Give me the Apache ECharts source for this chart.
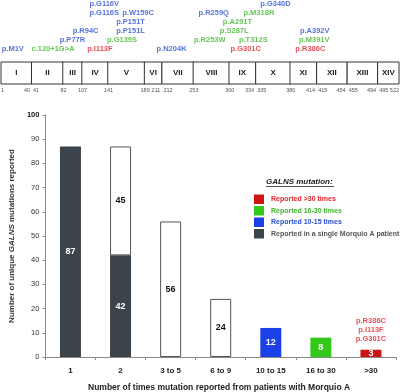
<!DOCTYPE html>
<html>
<head>
<meta charset="utf-8">
<script src="https://cdn.jsdelivr.net/npm/echarts@6/dist/echarts.min.js"></script>
<style>html,body{margin:0;padding:0;background:#fff}#c{width:400px;height:392px}</style>
</head>
<body>
<div id="c"></div>
<script>
// ---- Data ----
const categories = ['1', '2', '3 to 5', '6 to 9', '10 to 15', '16 to 30', '>30'];
const singlePatient = [87, 42, null, null, null, null, null];
const multiReported = [null, 45, 56, 24, null, null, null];
const reported10to15 = [null, null, null, null, 12, null, null];
const reported16to30 = [null, null, null, null, null, 8, null];
const reportedOver30 = [null, null, null, null, null, null, 3];
const over30Mutations = ['p.R386C', 'p.I113F', 'p.G301C'];
const yTicks = [0, 10, 20, 30, 40, 50, 60, 70, 80, 90, 100];

const exonNames = ['I','II','III','IV','V','VI','VII','VIII','IX','X','XI','XII','XIII','XIV'];
const exonStarts = [1, 41, 82, 107, 141, 189, 212, 253, 300, 335, 380, 415, 455, 495];
const exonEnds = [40, 82, 107, 141, 189, 211, 253, 300, 334, 380, 414, 454, 494, 522];

const mutationNames = ['p.M1V','c.120+1G>A','p.I113F','p.N204K','p.G301C','p.R386C',
  'p.P77R','p.G139S','p.R253W','p.T312S','p.M391V',
  'p.R94C','p.P151L','p.S287L','p.A392V',
  'p.P151T','p.A291T',
  'p.G116S','p.W159C','p.R259Q','p.M318R',
  'p.G116V','p.G340D'];
const mutationResidues = [1, 40, 113, 204, 301, 386,
  77, 139, 253, 312, 391,
  94, 151, 287, 392,
  151, 291,
  116, 159, 259, 318,
  116, 340];
const mutationTiers = [0,0,0,0,0,0, 1,1,1,1,1, 2,2,2,2, 3,3, 4,4,4,4, 5,5];
const mutationGroups = ['10-15','16-30','>30','10-15','>30','>30',
  '10-15','16-30','16-30','16-30','16-30',
  '10-15','10-15','16-30','10-15',
  '10-15','16-30',
  '10-15','10-15','10-15','16-30',
  '10-15','10-15'];

// ---- Styles ----
const FONT = 'Liberation Sans, Arial, Helvetica, sans-serif';
const textColors = { '>30': '#e3232d', '16-30': '#3fb52a', '10-15': '#2a4fd2' };
const barColors = { dark: '#3c444b', blue: '#1b40e8', green: '#34c81a', red: '#cc1414' };
const legendNames = ['Reported >30 times', 'Reported 16-30 times', 'Reported 10-15 times', 'Reported in a single Morquio A patient'];

const chart = echarts.init(document.getElementById('c'), null, { renderer: 'canvas' });

const mutationData = mutationNames.map((n, i) => ({
  value: [mutationResidues[i], mutationTiers[i]],
  name: n,
  label: { color: textColors[mutationGroups[i]] }
}));

const exonData = exonNames.map((n, i) => [exonStarts[i], exonEnds[i]]);

function barLabel(color) {
  return { show: true, position: 'inside', color: color, fontFamily: FONT, fontWeight: 'bold', fontSize: 9,
    formatter: p => (p.value == null ? '' : String(p.value)) };
}

const option = {
  animation: false,
  backgroundColor: '#fff',
  grid: [
    { left: 1, right: 1, top: 4, height: 44.5 },
    { left: 1, right: 1, top: 62, height: 22 },
    { left: 33, right: 4, top: 115, bottom: 35 }
  ],
  xAxis: [
    { gridIndex: 0, type: 'value', min: 0, max: 522, show: false },
    { gridIndex: 1, type: 'value', min: 0, max: 522, show: false },
    { gridIndex: 2, type: 'category', data: categories,
      axisLine: { lineStyle: { color: '#8a8a8a', width: 1 } },
      axisTick: { show: true, length: 3, lineStyle: { color: '#8a8a8a' } },
      axisLabel: { color: '#222', fontFamily: FONT, fontWeight: 'bold', fontSize: 8, margin: 10 } }
  ],
  yAxis: [
    { gridIndex: 0, type: 'value', min: 0, max: 5, show: false },
    { gridIndex: 1, type: 'value', min: 0, max: 1, show: false },
    { gridIndex: 2, type: 'value', min: yTicks[0], max: yTicks[yTicks.length - 1], interval: 10,
      splitLine: { show: false },
      axisLine: { show: true, lineStyle: { color: '#8a8a8a', width: 1 } },
      axisTick: { show: true, length: 3, lineStyle: { color: '#8a8a8a' } },
      axisLabel: { color: '#333', fontFamily: FONT, fontSize: 7.5, margin: 6,
        formatter: v => (v === 100 ? '{b|100}' : String(v)),
        rich: { b: { fontWeight: 'bold', fontSize: 7.5, color: '#111', fontFamily: FONT } } },
      name: '{n|Number of unique }{i|GALNS}{n| mutations reported}',
      nameLocation: 'middle', nameGap: 22,
      nameTextStyle: { rich: {
        n: { fontFamily: FONT, fontWeight: 'bold', fontSize: 8, color: '#333' },
        i: { fontFamily: FONT, fontWeight: 'bold', fontStyle: 'italic', fontSize: 8, color: '#333' } } } }
  ],
  title: {
    text: 'Number of times mutation reported from patients with Morquio A',
    left: 88, top: 383, padding: 0,
    textStyle: { fontFamily: FONT, fontWeight: 'bold', fontSize: 8.5, color: '#222' }
  },
  legend: {
    orient: 'vertical', left: 249, top: 189.5, itemWidth: 10, itemHeight: 9.5, itemGap: 2,
    selectedMode: false, icon: 'rect',
    textStyle: { fontFamily: FONT, fontWeight: 'bold', fontSize: 7, padding: [0, 0, 0, 2] },
    data: [
      { name: legendNames[0], textStyle: { color: textColors['>30'] } },
      { name: legendNames[1], textStyle: { color: textColors['16-30'] } },
      { name: legendNames[2], textStyle: { color: textColors['10-15'] } },
      { name: legendNames[3], textStyle: { color: '#555' } }
    ]
  },
  graphic: [
    { type: 'text', left: 266, top: 177.5,
      style: { text: 'GALNS mutation:', font: 'italic bold 8px ' + FONT, fill: '#222' } },
    { type: 'line', shape: { x1: 266, y1: 186.5, x2: 334, y2: 186.5 }, style: { stroke: '#222', lineWidth: 0.8 } }
  ],
  series: [
    { type: 'scatter', xAxisIndex: 0, yAxisIndex: 0, symbolSize: 0, silent: true,
      data: mutationData,
      label: { show: true, position: [0, 0], align: 'left', verticalAlign: 'middle',
        fontFamily: FONT, fontWeight: 'bold', fontSize: 7.5, formatter: p => p.name } },
    { type: 'custom', xAxisIndex: 1, yAxisIndex: 1, silent: true,
      data: exonData, encode: { x: [0, 1] },
      renderItem: function (params, api) {
        const i = params.dataIndex;
        const s = api.value(0), e = api.value(1);
        const p0 = api.coord([s - 1, 1]);
        const p1 = api.coord([e, 0]);
        const small = { font: '5.5px ' + FONT, fill: '#555', verticalAlign: 'middle' };
        const children = [
          { type: 'rect', shape: { x: p0[0], y: p0[1], width: p1[0] - p0[0], height: p1[1] - p0[1] },
            style: { fill: '#fff', stroke: '#333', lineWidth: 1 } },
          { type: 'text', x: (p0[0] + p1[0]) / 2, y: (p0[1] + p1[1]) / 2,
            style: { text: exonNames[i], font: 'bold 8px ' + FONT, fill: '#222', align: 'center', verticalAlign: 'middle' } }
        ];
        const prevEnd = i > 0 ? exonEnds[i - 1] : null;
        const nextStart = i < exonStarts.length - 1 ? exonStarts[i + 1] : null;
        if (prevEnd !== s) {
          children.push({ type: 'text', x: p0[0] + (i === 0 ? 0 : 1.5), y: p1[1] + 6,
            style: Object.assign({ text: String(s), align: 'left' }, small) });
        }
        if (nextStart === e) {
          children.push({ type: 'text', x: p1[0], y: p1[1] + 6, style: Object.assign({ text: String(e), align: 'center' }, small) });
        } else {
          children.push({ type: 'text', x: p1[0] - (i === exonStarts.length - 1 ? 0 : 1.5), y: p1[1] + 6,
            style: Object.assign({ text: String(e), align: 'right' }, small) });
        }
        return { type: 'group', children: children };
      } },
    { name: legendNames[3], type: 'bar', xAxisIndex: 2, yAxisIndex: 2, stack: 'a', barWidth: 21,
      data: singlePatient, itemStyle: { color: barColors.dark }, label: barLabel('#fff') },
    { name: 'multi', type: 'bar', xAxisIndex: 2, yAxisIndex: 2, stack: 'a', barWidth: 21,
      data: multiReported, itemStyle: { color: '#fff', borderColor: '#555', borderWidth: 1 }, label: barLabel('#111') },
    { name: legendNames[2], type: 'bar', xAxisIndex: 2, yAxisIndex: 2, stack: 'a', barWidth: 21,
      data: reported10to15, itemStyle: { color: barColors.blue }, label: barLabel('#fff') },
    { name: legendNames[1], type: 'bar', xAxisIndex: 2, yAxisIndex: 2, stack: 'a', barWidth: 21,
      data: reported16to30, itemStyle: { color: barColors.green }, label: barLabel('#fff') },
    { name: legendNames[0], type: 'bar', xAxisIndex: 2, yAxisIndex: 2, stack: 'a', barWidth: 21,
      data: reportedOver30, itemStyle: { color: barColors.red }, label: barLabel('#fff') },
    { type: 'scatter', xAxisIndex: 2, yAxisIndex: 2, symbolSize: 0, silent: true,
      data: reportedOver30.map((v, i) => (v == null ? null : [categories[i], v])).filter(d => d),
      label: { show: true, position: 'top', distance: 6, color: textColors['>30'], fontFamily: FONT,
        fontWeight: 'bold', fontSize: 7.5, lineHeight: 9, formatter: () => over30Mutations.join('\n') } }
  ]
};
chart.setOption(option);
</script>
</body>
</html>
